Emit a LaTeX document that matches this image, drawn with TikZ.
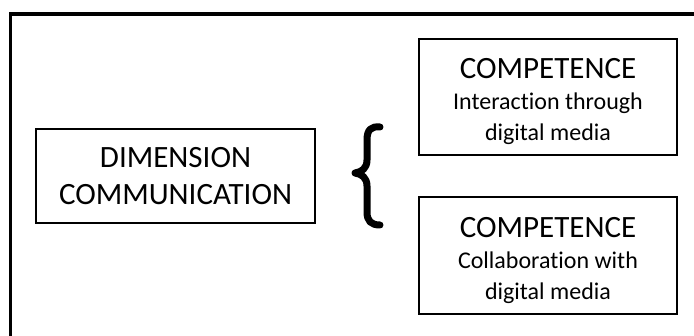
\documentclass[tikz,border=0pt]{standalone}
\usepackage{fontspec}
\setmainfont{Carlito}[Ligatures=NoCommon]
\newcommand{\bigfnt}{\fontsize{31}{35}\selectfont}
\newcommand{\smallfnt}{\fontsize{24}{35}\selectfont}
\tikzset{
  box/.style={draw=black, line width=2.5pt, align=center, inner sep=0pt, text=black, font=\bigfnt},
  frame/.style={line width=3.5pt, black},
  bracestroke/.style={line width=7pt, line cap=round, line join=round, black}
}
\begin{document}
\begin{tikzpicture}[x=1pt,y=-1pt]
\useasboundingbox (0,0) rectangle (694,336);
\clip (0,0) rectangle (694,336);
\coordinate (fb) at (10.5,345);
\coordinate (fc) at (10.5,14);
\coordinate (fr) at (705,14);
\draw[frame] (fb) -- (fc) -- (fr);
\node[box, minimum width=279pt, minimum height=94pt] (dim) at (175.5,176)
  {DIMENSION\\[2pt] COMMUNICATION};
\node[box, minimum width=258pt, minimum height=116pt] (c1) at (548,97)
  {\rule{0pt}{30pt}COMPETENCE\\[-4pt] \smallfnt Interaction through\\[-4pt] \smallfnt digital media};
\node[box, minimum width=258pt, minimum height=117pt] (c2) at (548,255.5)
  {\rule{0pt}{30pt}COMPETENCE\\[-4pt] \smallfnt Collaboration with\\[-4pt] \smallfnt digital media};
\draw[bracestroke] (380,127) .. controls (371,126) and (367,130) .. (367,140) -- (367,160)
  .. controls (367,168) and (362,172) .. (355,173)
  .. controls (362,174) and (367,178) .. (367,186) -- (367,212)
  .. controls (367,221) and (371,225) .. (380,225);
\end{tikzpicture}
\end{document}
